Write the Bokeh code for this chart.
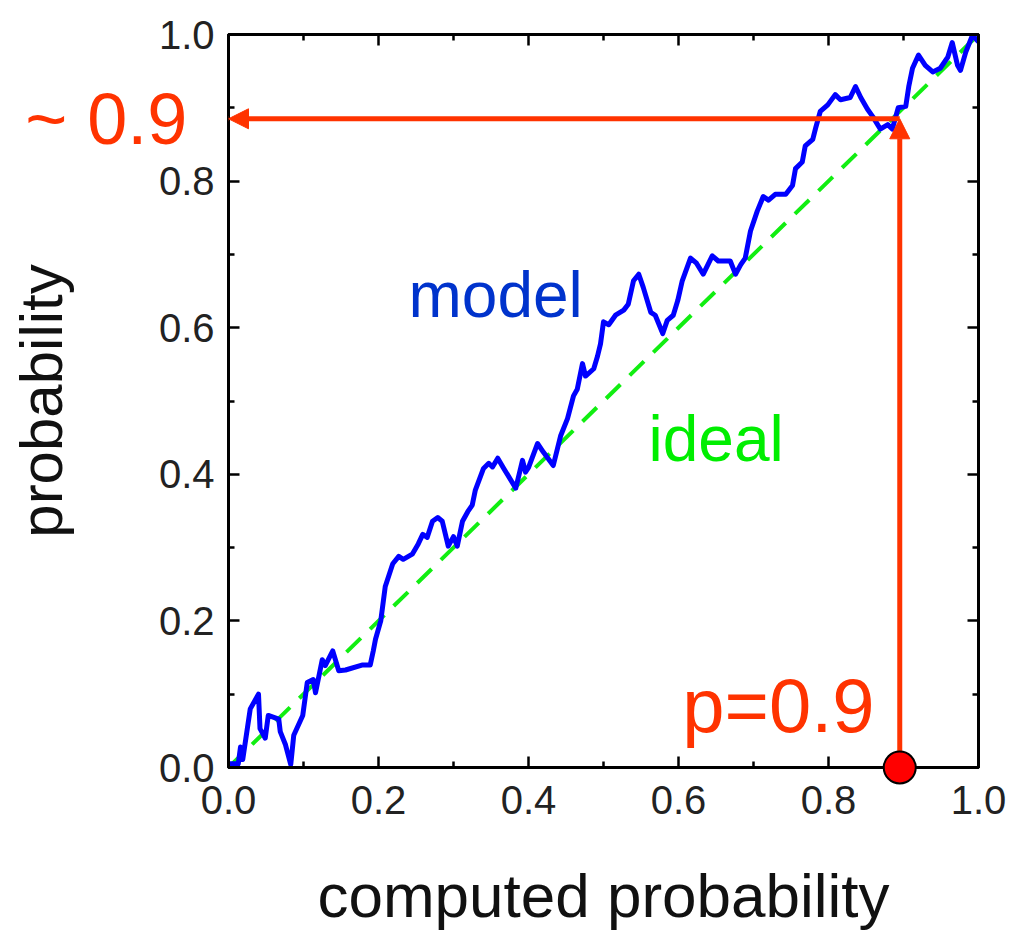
from bokeh.plotting import figure
from bokeh.models import (Label, Arrow, NormalHead, LinearAxis, FixedTicker,
                          Range1d, PrintfTickFormatter, CustomJSTickFormatter)
from bokeh.core.properties import value
from bokeh.embed import file_html
from bokeh.resources import INLINE

# ---------------- data ----------------
model_x = [0.0, 0.013, 0.016, 0.019, 0.029, 0.04, 0.042, 0.049, 0.053, 0.067, 0.069, 0.076,
           0.083, 0.087, 0.099, 0.105, 0.113, 0.116, 0.125, 0.129, 0.139, 0.147, 0.156, 0.179,
           0.189, 0.193, 0.196, 0.203, 0.209, 0.219, 0.227, 0.233, 0.245, 0.253, 0.259, 0.265,
           0.272, 0.279, 0.285, 0.293, 0.3, 0.305, 0.312, 0.319, 0.325, 0.329, 0.34, 0.347,
           0.352, 0.359, 0.367, 0.383, 0.392, 0.396, 0.4, 0.412, 0.42, 0.433, 0.443, 0.452,
           0.46, 0.465, 0.472, 0.476, 0.487, 0.492, 0.496, 0.5, 0.507, 0.516, 0.527, 0.533,
           0.54, 0.547, 0.553, 0.563, 0.569, 0.579, 0.585, 0.593, 0.599, 0.605, 0.616, 0.624,
           0.633, 0.645, 0.653, 0.669, 0.676, 0.683, 0.689, 0.696, 0.705, 0.713, 0.72, 0.729,
           0.743, 0.752, 0.756, 0.765, 0.769, 0.779, 0.783, 0.789, 0.799, 0.809, 0.816, 0.829,
           0.836, 0.843, 0.852, 0.859, 0.869, 0.879, 0.885, 0.893, 0.903, 0.907, 0.912, 0.92,
           0.929, 0.939, 0.949, 0.959, 0.965, 0.972, 0.976, 0.983, 0.992, 1.0]
model_y = [0.005, 0.005, 0.028, 0.011, 0.08, 0.10, 0.053, 0.04, 0.071, 0.066, 0.049, 0.031,
           0.004, 0.044, 0.071, 0.116, 0.12, 0.102, 0.147, 0.139, 0.159, 0.132, 0.133, 0.14,
           0.14, 0.159, 0.175, 0.2, 0.247, 0.278, 0.288, 0.284, 0.291, 0.305, 0.318, 0.314,
           0.336, 0.341, 0.336, 0.302, 0.315, 0.302, 0.336, 0.349, 0.358, 0.378, 0.408, 0.415,
           0.41, 0.422, 0.408, 0.381, 0.419, 0.403, 0.409, 0.442, 0.43, 0.412, 0.453, 0.476,
           0.507, 0.516, 0.551, 0.534, 0.544, 0.561, 0.578, 0.608, 0.604, 0.617, 0.624, 0.632,
           0.664, 0.673, 0.655, 0.621, 0.617, 0.592, 0.61, 0.617, 0.637, 0.664, 0.695, 0.688,
           0.673, 0.698, 0.691, 0.691, 0.673, 0.686, 0.695, 0.732, 0.759, 0.779, 0.774, 0.782,
           0.782, 0.794, 0.817, 0.826, 0.848, 0.857, 0.873, 0.895, 0.904, 0.918, 0.911, 0.914,
           0.929, 0.914, 0.898, 0.888, 0.871, 0.877, 0.871, 0.9, 0.902, 0.929, 0.954, 0.972,
           0.958, 0.949, 0.954, 0.969, 0.989, 0.958, 0.951, 0.976, 0.999, 0.99]
ideal_x = [0.0, 1.0]
ideal_y = [0.0, 1.0]

tick_values = [0.0, 0.2, 0.4, 0.6, 0.8, 1.0]
minor_tick_values = [0.1, 0.3, 0.5, 0.7, 0.9]

p_value = [0.895]        # marked computed probability "p=0.9"
read_value = [0.885]     # read-off probability "~ 0.9"
read_text = ["~ 0.9"]
read_text_x = [-0.271]

FONT = "Liberation Sans"
RED = "#ff3300"

p = figure(width=1012, height=932, x_range=Range1d(0, 1), y_range=Range1d(0, 1),
           output_backend="svg", toolbar_location=None,
           min_border_left=228, min_border_right=34, min_border_top=34, min_border_bottom=156)
p.background_fill_color = "white"
p.border_fill_color = "white"
p.xgrid.visible = False
p.ygrid.visible = False
p.outline_line_color = "black"
p.outline_line_width = 3


def style_axis(ax, labels=True):
    ax.ticker = FixedTicker(ticks=tick_values, minor_ticks=minor_tick_values)
    ax.axis_line_color = "black"
    ax.axis_line_width = 3
    ax.major_tick_in = 11
    ax.major_tick_out = 0
    ax.minor_tick_in = 6
    ax.minor_tick_out = 0
    ax.major_tick_line_color = "black"
    ax.minor_tick_line_color = "black"
    ax.major_tick_line_width = 2.5
    ax.minor_tick_line_width = 2.5
    if labels:
        ax.formatter = PrintfTickFormatter(format="%.1f")
        ax.major_label_text_font = FONT
        ax.major_label_text_font_size = "40px"
        ax.major_label_text_color = "#222222"
        ax.axis_label_text_font = FONT
        ax.axis_label_text_font_style = "normal"
        ax.axis_label_text_color = "#111111"
    else:
        ax.formatter = CustomJSTickFormatter(code="return ''")
        ax.major_label_standoff = 0


style_axis(p.xaxis[0])
style_axis(p.yaxis[0])
p.xaxis[0].major_label_standoff = 18
p.xaxis[0].axis_label = "computed probability"
p.xaxis[0].axis_label_text_font_size = "62px"
p.xaxis[0].axis_label_standoff = 44
p.yaxis[0].major_label_standoff = 14
p.yaxis[0].axis_label = "probability"
p.yaxis[0].axis_label_text_font_size = "60px"
p.yaxis[0].axis_label_standoff = 81

top_ax = LinearAxis()
right_ax = LinearAxis()
style_axis(top_ax, labels=False)
style_axis(right_ax, labels=False)
p.add_layout(top_ax, "above")
p.add_layout(right_ax, "right")

# ideal diagonal and model curve
p.line(ideal_x, ideal_y, line_color="#11ee11", line_width=4, line_dash="20 13")
p.line(model_x, model_y, line_color="#0000ff", line_width=5, line_join="round")

# arrows
p.add_layout(Arrow(end=NormalHead(size=20, fill_color=RED, line_color=RED),
                   x_start=p_value[0], y_start=0, x_end=p_value[0], y_end=read_value[0],
                   line_color=RED, line_width=5))
p.add_layout(Arrow(end=NormalHead(size=20, fill_color=RED, line_color=RED),
                   x_start=p_value[0], y_start=read_value[0], x_end=0, y_end=read_value[0],
                   line_color=RED, line_width=5))

# marker dot
p.scatter(p_value, [0], size=32, fill_color="#ff0000", line_color="black",
          line_width=2, level="overlay")

# annotations
p.add_layout(Label(x=0.24, y=0.645, text="model", text_font=FONT, text_font_size="64px",
                   text_color="#0033cc", text_baseline="alphabetic", text_align="left"))
p.add_layout(Label(x=0.56, y=0.448, text="ideal", text_font=FONT, text_font_size="64px",
                   text_color="#00ee00", text_baseline="alphabetic", text_align="left"))
p.add_layout(Label(x=0.605, y=0.085, text="p=0.9", text_font=FONT, text_font_size="76px",
                   text_color=RED, text_baseline="alphabetic", text_align="left"))
p.text(x=read_text_x, y=read_value, text=read_text, text_font=value(FONT),
       text_font_size="72px", text_color=RED, text_baseline="middle", text_align="left",
       level="overlay")

open("out.html", "w").write(file_html(p, INLINE))
